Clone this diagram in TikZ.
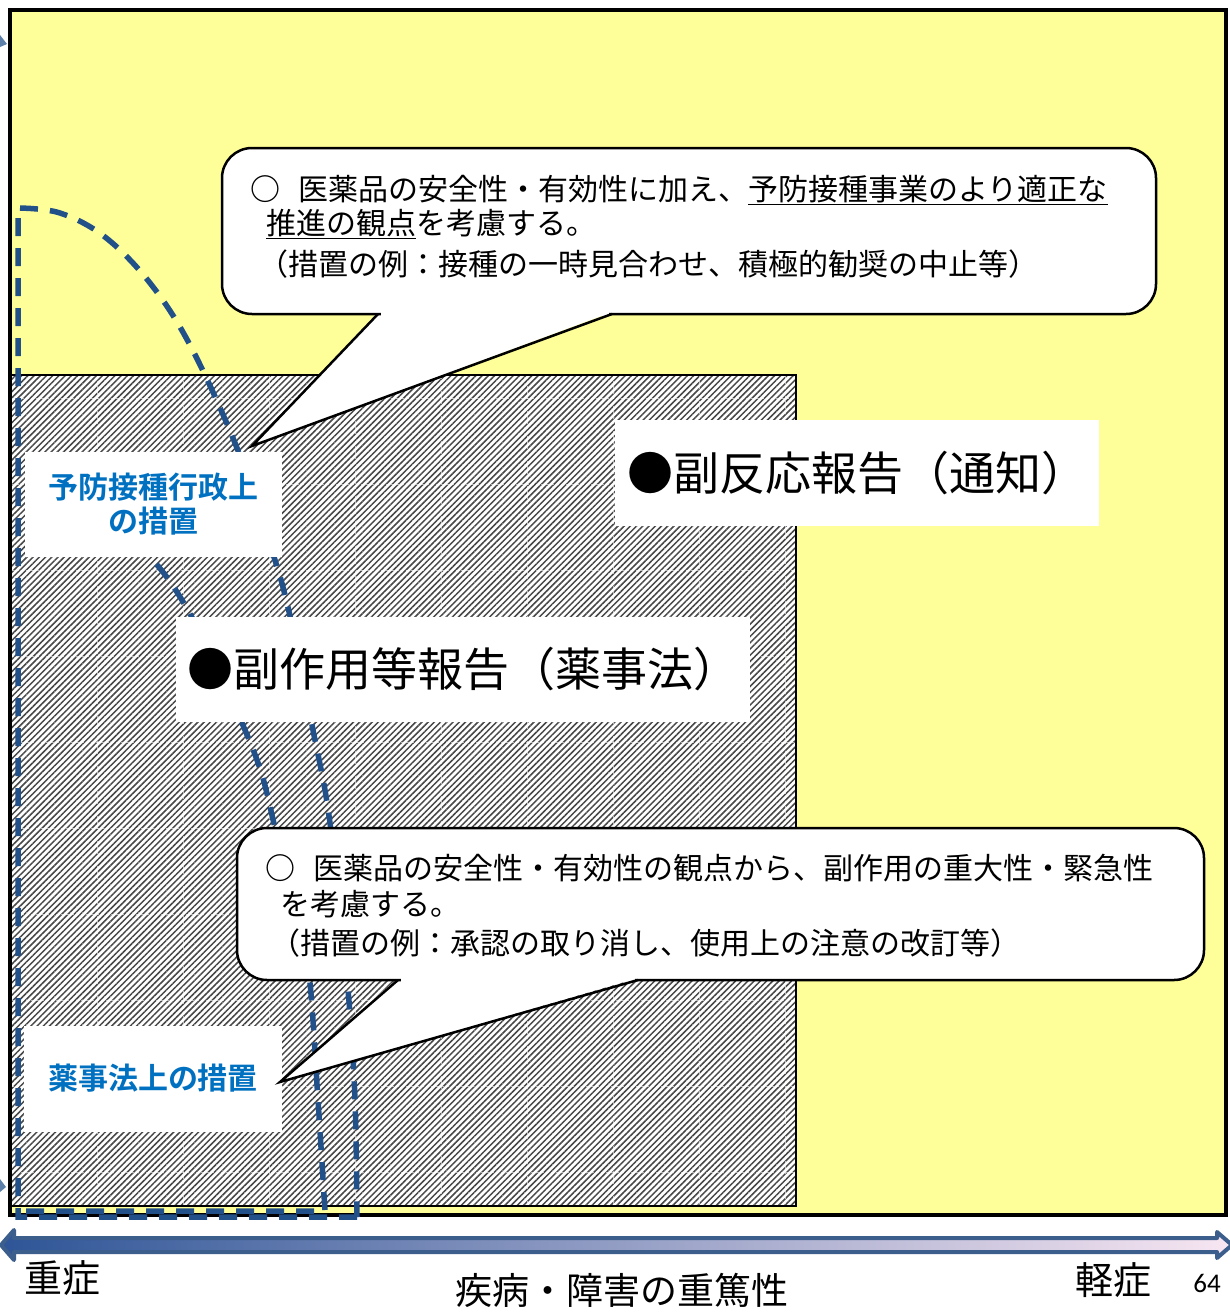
\documentclass[tikz,border=0pt]{standalone}
\usepackage{fontspec}
\setmainfont{Noto Sans CJK JP}[BoldFont={Noto Sans CJK JP Bold}]
\newfontfamily\latinfont{Carlito}
\usetikzlibrary{patterns.meta}
\definecolor{bgyellow}{HTML}{FFFF99}
\definecolor{curveblue}{HTML}{22518A}
\definecolor{labelblue}{HTML}{0070C0}
\definecolor{arrowedge}{HTML}{3B5E8C}
\definecolor{arrowdark}{HTML}{2E5597}
\definecolor{arrowmid}{HTML}{80BBF5}
\definecolor{arrowlight}{HTML}{F8E6F2}
\definecolor{fragblue}{HTML}{5B7FA8}
\tikzset{
  dashcurve/.style={draw=curveblue, line width=5.5pt, dash pattern=on 18pt off 12pt},
  whitebox/.style={fill=white, inner sep=0pt},
  bluelabel/.style={whitebox, text=labelblue, font=\fontsize{30}{34}\selectfont\bfseries, align=center},
  biglabel/.style={whitebox, font=\fontsize{46}{52}\selectfont},
  calloutshape/.style={fill=white},
  calloutedge/.style={draw=black, line width=2.5pt},
  cline/.style={anchor=base west, inner sep=0pt, font=\fontsize{30}{34}\selectfont},
  axistext/.style={inner sep=0pt, font=\fontsize{38}{42}\selectfont},
}
\begin{document}
\begin{tikzpicture}[x=1pt,y=-1pt]
\useasboundingbox (0,0) rectangle (1229,1312);
\fill[white] (0,0) rectangle (1229,1312);
% yellow field
\fill[bgyellow] (10,10) rectangle (1226,1215);
% hatched region
\fill[white] (10,375) rectangle (796,1206);
\fill[pattern={Lines[angle=45,distance=4.4pt,line width=1.5pt]}, pattern color=black!72] (10,375) rectangle (796,1206);
\foreach \gx in {97,183,269,355,441,527,613,699,785}
  \draw[white, opacity=0.6, line width=0.6pt, dash pattern=on 3pt off 2pt] (\gx,376) -- (\gx,1205);
\foreach \gy in {398,484,570,656,742,828,914,1000,1086,1172}
  \draw[white, opacity=0.6, line width=0.6pt, dash pattern=on 3pt off 2pt] (11,\gy) -- (795,\gy);
\draw[black, line width=1.5pt] (10,375) rectangle (796,1206);
% yellow border
\draw[black, line width=4pt] (10,10) rectangle (1226,1215);
% dashed curves
\draw[dashcurve] (357,1217) -- (18,1217) -- (18,208) -- plot[smooth, tension=0.6] coordinates {(18,208) (60,213) (105,237) (150,283) (190,345) (235,443) (265,530) (287,603) (313,730) (330,823) (348,990) (355,1100) (357,1217)};
\draw[dashcurve] plot[smooth, tension=0.6] coordinates {(40,470) (100,515) (150,557) (185,605) (215,665) (242,723) (262,775) (278,840) (300,920) (310,983) (318,1100) (325,1211)} -- (18,1211);
% edge fragments
\fill[fragblue] (0,35) -- (7,44) -- (0,47) -- cycle;
\fill[fragblue] (0,1179) -- (6,1187) -- (0,1192) -- cycle;
% label boxes
\node[bluelabel, minimum width=257pt, minimum height=105pt] (lblA) at (153.5,504.5) {予防接種行政上\\の措置};
\node[bluelabel, minimum width=258pt, minimum height=106pt] (lblB) at (153,1078.5) {薬事法上の措置};
\node[biglabel, minimum width=484pt, minimum height=106pt] (lblC) at (857,473) {●副反応報告（通知）};
\node[biglabel, minimum width=574pt, minimum height=105pt] (lblD) at (463,669.5) {●副作用等報告（薬事法）};
% callout 1
\coordinate (tipA) at (252,446);
\fill[calloutshape, rounded corners=30pt] (222,148) rectangle (1156,314);
\fill[calloutshape] (378,312) -- (tipA) -- (612,312) -- cycle;
\draw[calloutedge, rounded corners=30pt] (222,148) rectangle (1156,314);
\draw[white, line width=4pt] (381,314) -- (609,314);
\draw[calloutedge, line join=miter] (378,314) -- (tipA) -- (612,314);
\node[cline] (a1) at (250,200) {\textbf{○}\hspace{0.6em}医薬品の安全性・有効性に加え、\underline{予防接種事業のより適正な}};
\node[cline] (a2) at (266,234) {\underline{推進の観点}を考慮する。};
\node[cline] (a3) at (258,275) {（措置の例：接種の一時見合わせ、積極的勧奨の中止等）};
% callout 2
\coordinate (tipB) at (280,1082);
\fill[calloutshape, rounded corners=30pt] (237,828) rectangle (1204,980);
\fill[calloutshape] (398,978) -- (tipB) -- (638,978) -- cycle;
\draw[calloutedge, rounded corners=30pt] (237,828) rectangle (1204,980);
\draw[white, line width=4pt] (401,980) -- (635,980);
\draw[calloutedge, line join=miter] (398,980) -- (tipB) -- (638,980);
\node[cline] (b1) at (265,879) {\textbf{○}\hspace{0.6em}医薬品の安全性・有効性の観点から、副作用の重大性・緊急性};
\node[cline] (b2) at (280,915) {を考慮する。};
\node[cline] (b3) at (270,954) {（措置の例：承認の取り消し、使用上の注意の改訂等）};
% severity arrow
\shade[left color=arrowdark, middle color=arrowmid, right color=arrowlight, draw=arrowedge, line width=4pt, line join=round]
  (1,1245) -- (14,1230) -- (14,1238) -- (1217,1238) -- (1217,1232) -- (1232,1245) -- (1217,1258) -- (1217,1252) -- (14,1252) -- (14,1260) -- cycle;
% axis texts
\node[axistext] (sev) at (62,1278) {重症};
\node[axistext, font=\fontsize{37}{42}\selectfont] (axis) at (622,1290) {疾病・障害の重篤性};
\node[axistext] (mild) at (1113,1280) {軽症};
\node[inner sep=0pt, font=\latinfont\fontsize{27}{30}\selectfont] (page) at (1207,1283) {64};
\end{tikzpicture}
\end{document}
